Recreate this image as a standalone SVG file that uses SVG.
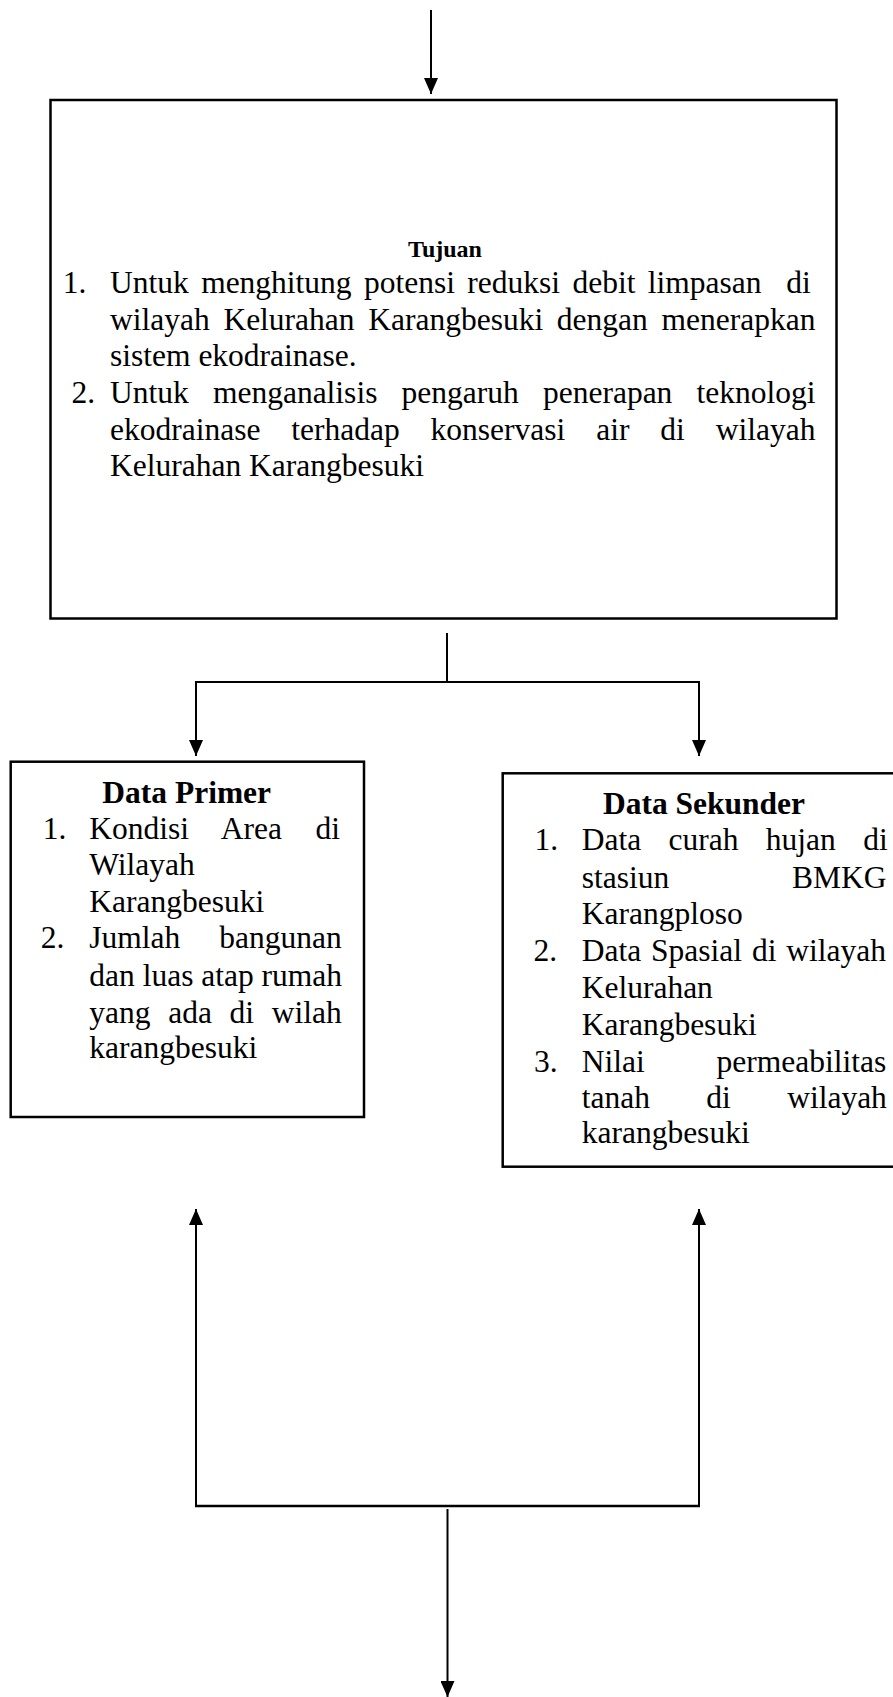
<svg xmlns="http://www.w3.org/2000/svg" width="893" height="1697" viewBox="0 0 893 1697">
<style>
  .box { fill: #ffffff; stroke: #000000; stroke-width: 2.5; }
  .conn { fill: none; stroke: #000000; stroke-width: 2; }
  .t { font-family: "Liberation Serif", "Times New Roman", serif; font-size: 31.5px; fill: #000000; }
  .h { font-family: "Liberation Serif", "Times New Roman", serif; font-size: 31.5px; font-weight: bold; fill: #000000; text-anchor: middle; }
  .hs { font-family: "Liberation Serif", "Times New Roman", serif; font-size: 24px; font-weight: bold; fill: #000000; text-anchor: middle; }
</style>
<defs>
  <marker id="arr" markerUnits="userSpaceOnUse" markerWidth="16" markerHeight="14" refX="16" refY="7" orient="auto">
    <path d="M0,0 L16,7 L0,14 Z" fill="#000000"/>
  </marker>
</defs>
<rect width="893" height="1697" fill="#ffffff"/>

<g id="connectors">
  <line class="conn" x1="431" y1="10" x2="431" y2="94" marker-end="url(#arr)"/>
  <line class="conn" x1="447" y1="633" x2="447" y2="682"/>
  <line class="conn" x1="195" y1="682" x2="700" y2="682"/>
  <line class="conn" x1="196" y1="681" x2="196" y2="756" marker-end="url(#arr)"/>
  <line class="conn" x1="699" y1="681" x2="699" y2="756" marker-end="url(#arr)"/>
  <line class="conn" x1="196" y1="1506" x2="196" y2="1209" marker-end="url(#arr)"/>
  <line class="conn" x1="699" y1="1506" x2="699" y2="1209" marker-end="url(#arr)"/>
  <line class="conn" x1="195" y1="1506" x2="700" y2="1506" style="stroke-width:2.5"/>
  <line class="conn" x1="447.5" y1="1509" x2="447.5" y2="1697" marker-end="url(#arr)"/>
</g>

<g id="tujuan">
  <rect class="box" x="50.5" y="100" width="786" height="518.5"/>
  <text class="hs" x="445" y="257">Tujuan</text>
  <text class="t" x="62.7" y="293.3">1.</text>
  <text class="t" x="110" y="293.3" xml:space="preserve" style="word-spacing:4.5px">Untuk menghitung potensi reduksi debit limpasan  di</text>
  <text class="t" x="110" y="329.7" style="word-spacing:5.8px">wilayah Kelurahan Karangbesuki dengan menerapkan</text>
  <text class="t" x="110" y="366">sistem ekodrainase.</text>
  <text class="t" x="71.5" y="403.3">2.</text>
  <text class="t" x="110" y="403.3" style="word-spacing:16.3px">Untuk menganalisis pengaruh penerapan teknologi</text>
  <text class="t" x="110" y="439.5" style="word-spacing:23px">ekodrainase terhadap konservasi air di wilayah</text>
  <text class="t" x="110" y="475.5">Kelurahan Karangbesuki</text>
</g>

<g id="data-primer">
  <rect class="box" x="10.7" y="761.7" width="353.3" height="355.3"/>
  <text class="h" x="186.7" y="803">Data Primer</text>
  <text class="t" x="42.7" y="838.5">1.</text>
  <text class="t" x="89.3" y="838.5" style="word-spacing:25.6px">Kondisi Area di</text>
  <text class="t" x="89.3" y="875">Wilayah</text>
  <text class="t" x="89.3" y="911.7">Karangbesuki</text>
  <text class="t" x="40.7" y="948.3">2.</text>
  <text class="t" x="89.3" y="948.3" style="word-spacing:31px">Jumlah bangunan</text>
  <text class="t" x="89.3" y="986">dan luas atap rumah</text>
  <text class="t" x="89.3" y="1022.7" style="word-spacing:9.8px">yang ada di wilah</text>
  <text class="t" x="89.3" y="1058.3">karangbesuki</text>
</g>

<g id="data-sekunder">
  <rect class="box" x="502.7" y="773.3" width="400" height="393.4"/>
  <text class="h" x="704" y="814">Data Sekunder</text>
  <text class="t" x="534.5" y="850">1.</text>
  <text class="t" x="581.7" y="850" style="word-spacing:19.5px">Data curah hujan di</text>
  <text class="t" x="581.7" y="887.7" style="word-spacing:115px">stasiun BMKG</text>
  <text class="t" x="581.7" y="924.3">Karangploso</text>
  <text class="t" x="533.5" y="961">2.</text>
  <text class="t" x="581.7" y="961" style="word-spacing:2px">Data Spasial di wilayah</text>
  <text class="t" x="581.7" y="998.3">Kelurahan</text>
  <text class="t" x="581.7" y="1035">Karangbesuki</text>
  <text class="t" x="534" y="1071.7">3.</text>
  <text class="t" x="581.7" y="1071.7" style="word-spacing:64px">Nilai permeabilitas</text>
  <text class="t" x="581.7" y="1108.3" style="word-spacing:48.5px">tanah di wilayah</text>
  <text class="t" x="581.7" y="1143.3">karangbesuki</text>
</g>
</svg>
